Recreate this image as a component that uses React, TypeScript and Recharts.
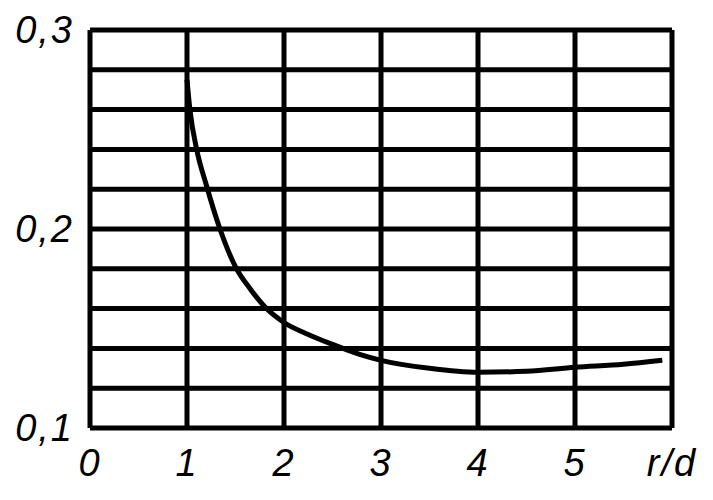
import React from 'react'
import { LineChart, Line, XAxis, YAxis, CartesianGrid } from 'recharts'

// r/d values and the coefficient
const ratio = [1.0, 1.03, 1.1, 1.2, 1.34, 1.5, 1.65, 1.82, 2.0, 2.25, 2.5, 2.78, 3.0, 3.5, 4.0, 4.5, 5.0, 5.5, 5.9]
const coef = [0.275, 0.26, 0.24, 0.222, 0.2, 0.181, 0.17, 0.16, 0.153, 0.147, 0.142, 0.137, 0.134, 0.13, 0.128, 0.1285, 0.1305, 0.132, 0.134]

const xTicks = [0, 1, 2, 3, 4, 5, 6]
const yTicks = [0.1, 0.12, 0.14, 0.16, 0.18, 0.2, 0.22, 0.24, 0.26, 0.28, 0.3]

const data = ratio.map((r, i) => ({ r, k: coef[i] }))

const labelFont = { fontSize: 38, fill: '#000', fontStyle: 'italic', fontFamily: 'Liberation Sans, Arial, sans-serif', letterSpacing: 2 }

const formatY = (v: number) => {
  const t = v * 10
  return Math.abs(t - Math.round(t)) < 1e-6 ? '0,' + Math.round(t) : ''
}

export default function App() {
  return (
    <LineChart width={705} height={492} data={data} margin={{ top: 22, right: 41, left: 0, bottom: 0 }}>
      <CartesianGrid stroke="#000" strokeWidth={5} />
      <XAxis
        dataKey="r"
        type="number"
        domain={[0, 6]}
        ticks={xTicks}
        height={72}
        axisLine={false}
        tickLine={false}
        tickSize={0}
        tickMargin={21}
        tick={labelFont}
        tickFormatter={(v) => (v === 6 ? 'r/d' : String(v))}
      />
      <YAxis
        type="number"
        domain={[0.1, 0.3]}
        ticks={yTicks}
        width={82}
        axisLine={false}
        tickLine={false}
        tickSize={0}
        tickMargin={16}
        tick={labelFont}
        tickFormatter={formatY}
        interval={0}
      />
      <Line
        dataKey="k"
        type="monotone"
        stroke="#000"
        strokeWidth={5}
        dot={false}
        isAnimationActive={false}
      />
    </LineChart>
  )
}
